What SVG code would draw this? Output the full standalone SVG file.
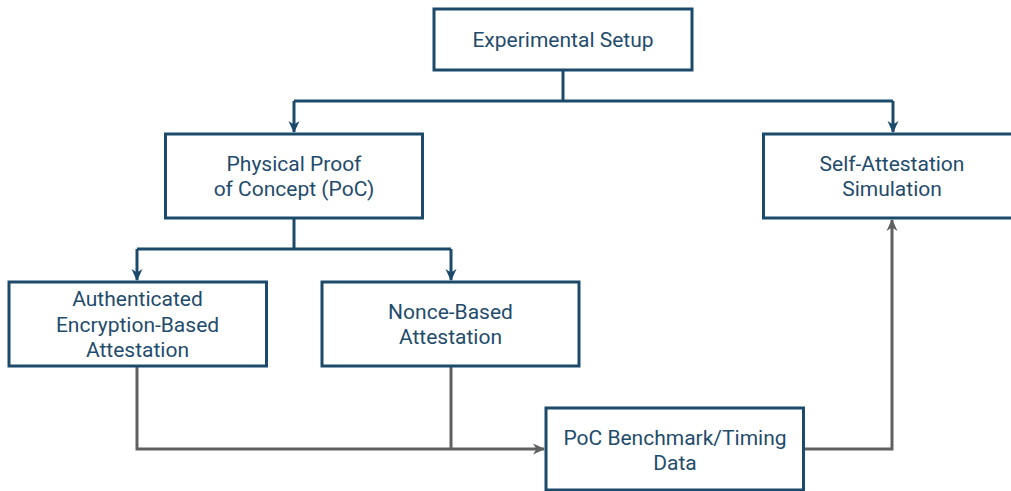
<svg xmlns="http://www.w3.org/2000/svg" width="1011" height="491" viewBox="0 0 1011 491">
  <style>
    .box { fill: #ffffff; stroke: #1c4a6a; stroke-width: 3; }
    .lbl { font-family: Roboto, "Liberation Sans", sans-serif; font-size: 21px; fill: #1f4c6c; text-anchor: middle; }
    .blue { fill: none; stroke: #1c4a6a; stroke-width: 3; }
    .gray { fill: none; stroke: #606060; stroke-width: 3; }
  </style>
  <defs>
    <marker id="arrBlue" viewBox="0 0 12 12" refX="11" refY="6" markerWidth="12" markerHeight="12" markerUnits="userSpaceOnUse" orient="auto">
      <path d="M0,0.5 L12,6 L0,11.5 L3.5,6 z" fill="#1c4a6a"/>
    </marker>
    <marker id="arrGray" viewBox="0 0 12 12" refX="11" refY="6" markerWidth="12" markerHeight="12" markerUnits="userSpaceOnUse" orient="auto">
      <path d="M0,0.5 L12,6 L0,11.5 L3.5,6 z" fill="#606060"/>
    </marker>
  </defs>

  <g id="connectors">
    <path class="blue" d="M563,70 V101"/>
    <path class="blue" d="M294,101 H893"/>
    <path class="blue" d="M294,101 V132" marker-end="url(#arrBlue)"/>
    <path class="blue" d="M893,101 V132" marker-end="url(#arrBlue)"/>
    <path class="blue" d="M294,218 V249"/>
    <path class="blue" d="M137,249 H451"/>
    <path class="blue" d="M137,249 V280" marker-end="url(#arrBlue)"/>
    <path class="blue" d="M451,249 V280" marker-end="url(#arrBlue)"/>
    <path class="gray" d="M137,366 V449 H544" marker-end="url(#arrGray)"/>
    <path class="gray" d="M451,366 V449"/>
    <path class="gray" d="M804,449 H892 V220" marker-end="url(#arrGray)"/>
  </g>

  <g id="experimental-setup">
    <rect class="box" x="434" y="9" width="258" height="61"/>
    <text class="lbl" x="563" y="47">Experimental Setup</text>
  </g>

  <g id="physical-poc">
    <rect class="box" x="165.5" y="134" width="257" height="84"/>
    <text class="lbl" x="294" y="171">Physical Proof</text>
    <text class="lbl" x="294" y="196">of Concept (PoC)</text>
  </g>

  <g id="self-attestation">
    <rect class="box" x="763.5" y="134" width="258" height="84"/>
    <text class="lbl" x="892" y="171">Self-Attestation</text>
    <text class="lbl" x="892" y="196">Simulation</text>
  </g>

  <g id="authenticated-encryption">
    <rect class="box" x="9" y="282" width="257.5" height="84"/>
    <text class="lbl" x="137.5" y="306">Authenticated</text>
    <text class="lbl" x="137.5" y="331.5">Encryption-Based</text>
    <text class="lbl" x="137.5" y="357">Attestation</text>
  </g>

  <g id="nonce-based">
    <rect class="box" x="322" y="282" width="257" height="84"/>
    <text class="lbl" x="450.5" y="318.5">Nonce-Based</text>
    <text class="lbl" x="450.5" y="343.5">Attestation</text>
  </g>

  <g id="poc-benchmark">
    <rect class="box" x="546" y="408" width="257.5" height="82"/>
    <text class="lbl" x="675" y="445">PoC Benchmark/Timing</text>
    <text class="lbl" x="675" y="470">Data</text>
  </g>
</svg>
